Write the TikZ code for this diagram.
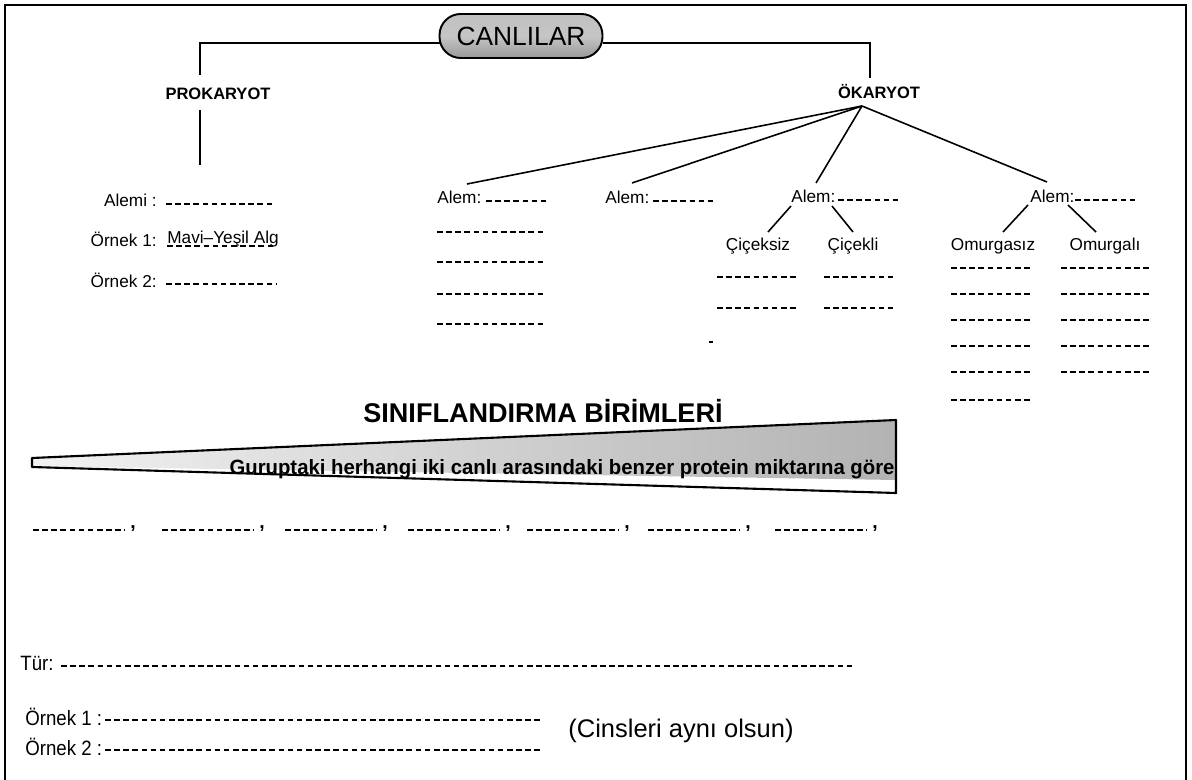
\documentclass[tikz,border=0pt]{standalone}
\usepackage{fontspec}
\setmainfont{Liberation Sans}
\newfontfamily\narrowfont[FakeStretch=0.9]{Liberation Sans}
\usetikzlibrary{calc}
\tikzset{
  lbl/.style={font=\fontsize{9.8}{11}\selectfont, inner sep=0pt},
  head/.style={font=\bfseries\fontsize{9.4}{11}\selectfont, inner sep=0pt},
  low/.style={font=\narrowfont\fontsize{11.8}{13}\selectfont, inner sep=0pt},
  conn/.style={line width=0.9pt},
  dline/.style={line width=0.9pt, dash pattern=on 3.2pt off 2pt},
  pill/.style={draw, line width=1.1pt, rounded corners=12pt, minimum width=3.26cm, minimum height=0.88cm,
    top color=gray!50, bottom color=gray!80, middle color=gray!45, inner sep=0pt,
    font=\fontsize{15}{16}\selectfont}
}
\begin{document}
\begin{tikzpicture}[x=0.02cm,y=-0.02cm]
\useasboundingbox (0,0) rectangle (1192,780);
\fill[white] (0,0) rectangle (1192,780);
% frame
\draw[line width=1.2pt] (5,800) -- (5,5) -- (1186,5) -- (1186,800);

% top
\node[pill] (canlilar) at (521,36) {CANLILAR};
\node[head] (pro) at (218,94) {PROKARYOT};
\node[head] (oka) at (879,92) {ÖKARYOT};
\coordinate (cl) at (440,43);
\coordinate (cr) at (603,43);
\coordinate (pk1) at (200,75);
\coordinate (ok1) at (870,78);
\draw[conn] (cl) -| (pk1);
\draw[conn] (cr) -| (ok1);
\coordinate (pk2) at (200,110);
\coordinate (pk3) at (200,165);
\draw[conn] (pk2) -- (pk3);

% prokaryot items
\node[lbl, anchor=east] (alemi) at (157,200) {Alemi :};
\draw[dline] (166,204) -- (273,204);
\node[lbl, anchor=east] (orn1) at (157,239) {Örnek 1:};
\node[lbl, anchor=west] (mavi) at (167,239) {Mavi–Yeşil Alg};
\draw[dline] (167,246) -- (273,246);
\node[lbl, anchor=east] (orn2) at (157,280) {Örnek 2:};
\draw[dline] (166,284) -- (277,284);

% okaryot fan
\coordinate (apex) at (862,106);
\node[lbl, anchor=west] (a1) at (437,197) {Alem:};
\node[lbl, anchor=west] (a2) at (605,197) {Alem:};
\node[lbl, anchor=west] (a3) at (791,196) {Alem:};
\node[lbl, anchor=west] (a4) at (1030,196) {Alem:};
\coordinate (e1) at (467,184);
\coordinate (e2) at (632,183);
\coordinate (e3) at (816,183);
\coordinate (e4) at (1047,182);
\foreach \e in {e1,e2,e3,e4} \draw[conn] (apex) -- (\e);
\draw[dline] (486,201) -- (548,201);
\draw[dline] (653,201) -- (715,201);
\draw[dline] (838,200) -- (898,200);
\draw[dline] (1075,200) -- (1135,200);
\foreach \y in {232,262,294,324} \draw[dline] (437,\y) -- (546,\y);

% alem 3 children
\node[lbl] (cs) at (758,246) {Çiçeksiz};
\node[lbl] (ck) at (853,246) {Çiçekli};
\draw[conn] (791,206) -- (768,232);
\draw[conn] (832,206) -- (853,232);
\foreach \y in {277,308} {\draw[dline] (717,\y) -- (797,\y); \draw[dline] (824,\y) -- (893,\y);}
\draw[line width=0.9pt] (709,342) -- (713,342);

% alem 4 children
\node[lbl] (omz) at (993,246) {Omurgasız};
\node[lbl] (oml) at (1105,246) {Omurgalı};
\draw[conn] (1028,205) -- (1003,232);
\draw[conn] (1068,205) -- (1096,232);
\foreach \y in {268,294,320,346,372,400} \draw[dline] (951,\y) -- (1033,\y);
\foreach \y in {268,294,320,346,372} \draw[dline] (1061,\y) -- (1150,\y);

% siniflandirma
\node[font=\bfseries\fontsize{15.4}{17}\selectfont, inner sep=0pt] (sb) at (543,411) {SINIFLANDIRMA BİRİMLERİ};
\shade[left color=gray!10, right color=gray!60] (32,458) -- (896,420) -- (896,480) -- (32,466) -- cycle;
\draw[line width=1.2pt, line join=round] (32,458) -- (896,420) -- (896,493) -- (32,467) -- cycle;
\node[inner sep=0pt] (gur) at (562,469) {\resizebox{13.3cm}{0.3cm}{\bfseries Guruptaki herhangi iki canlı arasındaki benzer protein miktarına göre}};

% row of units
\foreach \s in {33,162,285,408,527,648,775} {
  \draw[dline] (\s,530) -- (\s+92,530);
  \node[font=\bfseries\fontsize{11}{12}\selectfont, inner sep=0pt] at (\s+100,529) {,};
}

% bottom
\node[low, anchor=west] (tur) at (20,663) {Tür:};
\draw[dline] (61,666) -- (852,666);
\node[low, anchor=west] (b1) at (25,717) {Örnek 1 :};
\draw[dline] (105,720) -- (540,720);
\node[low, anchor=west] (b2) at (25,747) {Örnek 2 :};
\draw[dline] (105,750) -- (540,750);
\node[font=\fontsize{14.5}{16}\selectfont, inner sep=0pt] (cins) at (681,731) {(Cinsleri aynı olsun)};
\end{tikzpicture}
\end{document}
